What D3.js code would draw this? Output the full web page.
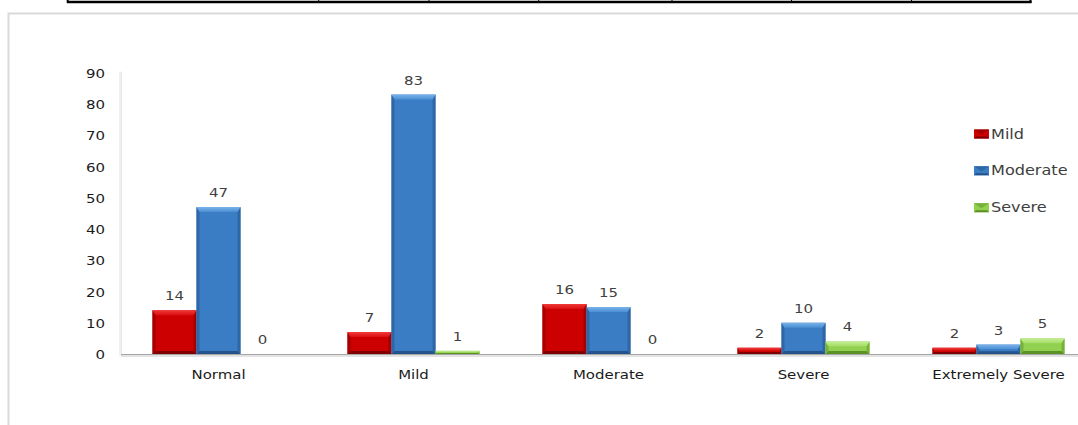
<!DOCTYPE html>
<html>
<head>
<meta charset="utf-8">
<script src="https://cdn.jsdelivr.net/npm/d3@7"></script>
<style>
  html, body { margin: 0; padding: 0; background: #fff; }
  svg { display: block; }
  text { font-family: "DejaVu Sans", sans-serif; }
</style>
</head>
<body>
<svg id="chart" width="1078" height="425"></svg>
<script>
// Severity groups on the x axis
const categories = ["Normal", "Mild", "Moderate", "Severe", "Extremely Severe"];
// Series (legend entries)
const seriesNames = ["Mild", "Moderate", "Severe"];
const mildValues = [14, 7, 16, 2, 2];
const moderateValues = [47, 83, 15, 10, 3];
const severeValues = [0, 1, 0, 4, 5];
const yTicks = [0, 10, 20, 30, 40, 50, 60, 70, 80, 90];
// Column dividers of the table row above the chart
const tableDividers = [318.7, 429, 538.7, 672, 791.5, 911.5];

const seriesValues = [mildValues, moderateValues, severeValues];

// Bevelled fill palettes per series: face, top highlight, sides, bottom
const palettes = [
  { face: "#cc0000", topA: "#f03a3a", topB: "#d90e0e", side: "#a30000", bottom: "#7f0000" },
  { face: "#3b7dc4", topA: "#79b2ea", topB: "#4a8ed2", side: "#2e66a6", bottom: "#24528a" },
  { face: "#92d050", topA: "#c4ee96", topB: "#a2dc62", side: "#76b238", bottom: "#5c9126" }
];

const svg = d3.select("#chart");
const hx = 1.15; // horizontal text stretch

// Chart frame
svg.append("rect").attr("x", 8.5).attr("y", 13.5).attr("width", 1200).attr("height", 500)
  .attr("fill", "#fff").attr("stroke", "#dadada").attr("stroke-width", 2);

// Table fragment at the very top
const tbl = svg.append("g");
tbl.selectAll("line.div").data(tableDividers).enter().append("line")
  .attr("class", "div")
  .attr("x1", d => d).attr("x2", d => d).attr("y1", 0).attr("y2", 3)
  .attr("stroke", "#000").attr("stroke-width", 1);
tbl.append("line").attr("x1", 67).attr("x2", 1031.5).attr("y1", 2).attr("y2", 2)
  .attr("stroke", "#000").attr("stroke-width", 2.4);
tbl.append("line").attr("x1", 67.7).attr("x2", 67.7).attr("y1", 0).attr("y2", 3)
  .attr("stroke", "#000").attr("stroke-width", 2);
tbl.append("line").attr("x1", 1030.5).attr("x2", 1030.5).attr("y1", 0).attr("y2", 3)
  .attr("stroke", "#000").attr("stroke-width", 2);

// Scales
const plotLeft = 121, plotRight = 1096, plotTop = 72.7, plotBottom = 354;
const x = d3.scaleBand().domain(categories).range([plotLeft, plotRight])
  .paddingInner(63 / 195).paddingOuter(63 / 390);
const xs = d3.scaleBand().domain(seriesNames).range([0, x.bandwidth()]);
const y = d3.scaleLinear().domain([0, 90]).range([plotBottom, plotTop]);

// Plot area edges (soft)
svg.append("line").attr("x1", plotLeft - 1).attr("x2", plotLeft - 1)
  .attr("y1", plotTop - 1).attr("y2", plotBottom + 2)
  .attr("stroke", "#f0f0f0").attr("stroke-width", 2);
svg.append("line").attr("x1", plotLeft + 0.5).attr("x2", plotLeft + 0.5)
  .attr("y1", plotTop - 1).attr("y2", plotBottom)
  .attr("stroke", "#e6e6e6").attr("stroke-width", 1);

// Y axis labels
const yAxis = svg.append("g").attr("transform", `translate(${plotLeft - 16},0)`)
  .call(d3.axisLeft(y).tickValues(yTicks).tickSize(0).tickPadding(0));
yAxis.select(".domain").remove();
yAxis.selectAll(".tick text")
  .attr("x", null).attr("dy", null)
  .attr("transform", `translate(0,4.6) scale(${hx},1)`)
  .attr("font-size", 13).attr("fill", "#1a1a1a")
  .attr("font-family", "DejaVu Sans, sans-serif")
  .attr("text-anchor", "end");

// Baseline with shadow
svg.append("line").attr("x1", plotLeft).attr("x2", 1078).attr("y1", plotBottom + 2).attr("y2", plotBottom + 2)
  .attr("stroke", "#e3e3e3").attr("stroke-width", 2);
svg.append("line").attr("x1", plotLeft).attr("x2", 1078).attr("y1", plotBottom + 0.5).attr("y2", plotBottom + 0.5)
  .attr("stroke", "#a6a6a6").attr("stroke-width", 1.2);

// Gradients for bar tops
const defs = svg.append("defs");
palettes.forEach((p, i) => {
  const g = defs.append("linearGradient").attr("id", "top" + i)
    .attr("x1", 0).attr("y1", 0).attr("x2", 0).attr("y2", 1);
  g.append("stop").attr("offset", "0%").attr("stop-color", p.topA);
  g.append("stop").attr("offset", "100%").attr("stop-color", p.topB);
});

// Bars
const barData = [];
categories.forEach((c, ci) => {
  seriesNames.forEach((s, si) => {
    barData.push({ cat: c, series: s, si: si, value: seriesValues[si][ci] });
  });
});

const bars = svg.append("g");
barData.forEach(d => {
  if (d.value <= 0) return;
  const p = palettes[d.si];
  const bx = x(d.cat) + xs(d.series);
  const bw = xs.bandwidth();
  const by = y(d.value);
  const bh = plotBottom - by;
  const tb = Math.min(5, bh * 0.5);
  const sb = Math.min(3, bh * 0.3);
  const g = bars.append("g");
  g.append("rect").attr("x", bx).attr("y", by).attr("width", bw).attr("height", bh).attr("fill", p.face);
  const poly = pts => pts.map(q => q.join(",")).join(" ");
  g.append("polygon").attr("points", poly([[bx, by + bh], [bx + sb, by + bh - sb], [bx + bw - sb, by + bh - sb], [bx + bw, by + bh]]))
    .attr("fill", p.bottom);
  g.append("polygon").attr("points", poly([[bx, by], [bx + sb, by + tb], [bx + sb, by + bh - sb], [bx, by + bh]]))
    .attr("fill", p.side);
  g.append("polygon").attr("points", poly([[bx + bw, by], [bx + bw - sb, by + tb], [bx + bw - sb, by + bh - sb], [bx + bw, by + bh]]))
    .attr("fill", p.side);
  g.append("polygon").attr("points", poly([[bx, by], [bx + bw, by], [bx + bw - sb, by + tb], [bx + sb, by + tb]]))
    .attr("fill", `url(#top${d.si})`);
});

// Value labels
svg.append("g").selectAll("text").data(barData).enter().append("text")
  .attr("transform", d => `translate(${x(d.cat) + xs(d.series) + xs.bandwidth() / 2},${y(d.value) - 10}) scale(${hx},1)`)
  .attr("text-anchor", "middle").attr("font-size", 13).attr("fill", "#404040")
  .text(d => d.value);

// Category labels
svg.append("g").selectAll("text").data(categories).enter().append("text")
  .attr("transform", d => `translate(${x(d) + x.bandwidth() / 2},379) scale(${hx},1)`)
  .attr("text-anchor", "middle").attr("font-size", 13).attr("fill", "#1a1a1a")
  .text(d => d);

// Legend
const legend = svg.append("g");
seriesNames.forEach((s, i) => {
  const base = [138.5, 175.3, 212.2][i];
  const p = palettes[i];
  const lx = 974, ly = base - 9, lw = 15, lh = 9;
  const lg = legend.append("g");
  lg.append("rect").attr("x", lx).attr("y", ly).attr("width", lw).attr("height", lh).attr("fill", p.face);
  lg.append("polygon").attr("points", `${lx},${ly} ${lx + lw},${ly} ${lx + lw / 2},${ly + 5}`).attr("fill", p.side);
  lg.append("polygon").attr("points", `${lx},${ly + lh} ${lx + lw},${ly + lh} ${lx + lw - 2},${ly + lh - 2} ${lx + 2},${ly + lh - 2}`).attr("fill", p.bottom);
  lg.append("text").attr("transform", `translate(991,${base}) scale(${hx},1)`)
    .attr("font-size", 14).attr("fill", "#404040").text(s);
});
</script>
</body>
</html>
